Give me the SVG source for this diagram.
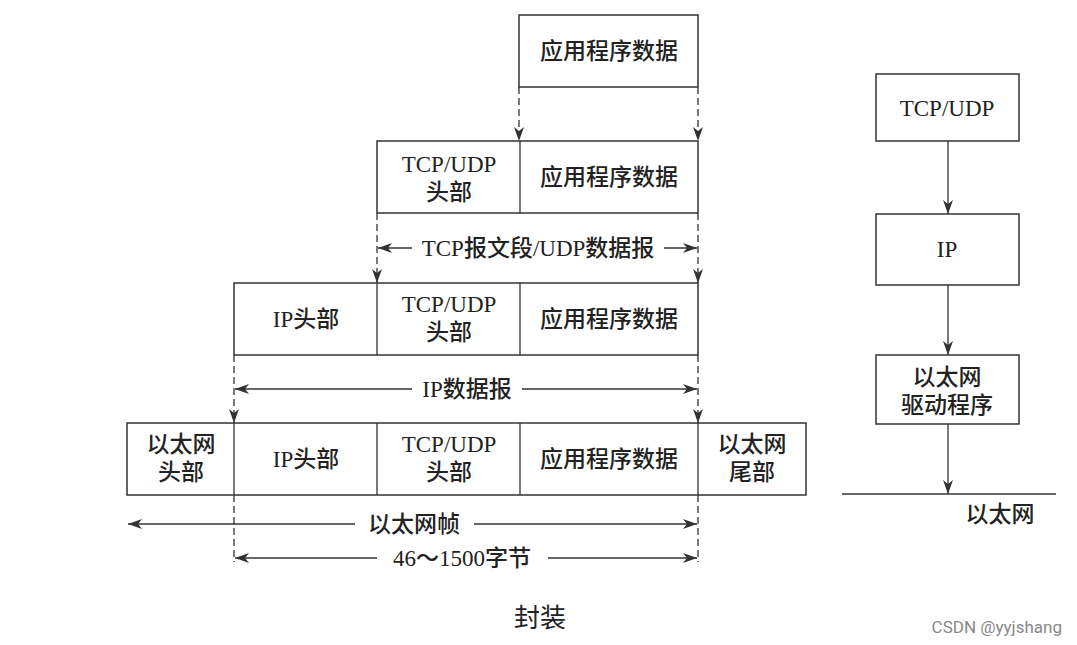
<svg xmlns="http://www.w3.org/2000/svg" width="1077" height="645" viewBox="0 0 1077 645">
<style>
.box{fill:#fff;stroke:#333;stroke-width:1.5}
.t{font-family:"Liberation Serif","Noto Sans CJK SC",serif;font-size:23px;fill:#222;text-anchor:middle;font-weight:500}
.d{stroke:#333;stroke-width:1.3;stroke-dasharray:7 4;fill:none}
.l{stroke:#333;stroke-width:1.3;fill:none}
</style>
<defs>
<marker id="ah" viewBox="0 0 14 10" refX="14" refY="5" markerWidth="14" markerHeight="10" markerUnits="userSpaceOnUse" orient="auto-start-reverse">
<path d="M0,0 L14,5 L0,10 L4,5 Z" fill="#333"/>
</marker>
</defs>
<rect width="1077" height="645" fill="#fff"/>
<g id="connectors">
<line class="d" x1="519" y1="87" x2="519" y2="141" marker-end="url(#ah)"/>
<line class="d" x1="698" y1="87" x2="698" y2="141" marker-end="url(#ah)"/>
<line class="d" x1="377" y1="213" x2="377" y2="283" marker-end="url(#ah)"/>
<line class="d" x1="698" y1="213" x2="698" y2="283" marker-end="url(#ah)"/>
<line class="d" x1="234" y1="355" x2="234" y2="423" marker-end="url(#ah)"/>
<line class="d" x1="698" y1="355" x2="698" y2="423" marker-end="url(#ah)"/>
<line class="d" x1="234" y1="495" x2="234" y2="562"/>
<line class="d" x1="698" y1="495" x2="698" y2="562"/>
<line class="l" x1="412" y1="248" x2="378" y2="248" marker-end="url(#ah)"/>
<line class="l" x1="664" y1="248" x2="697" y2="248" marker-end="url(#ah)"/>
<line class="l" x1="412" y1="389" x2="235" y2="389" marker-end="url(#ah)"/>
<line class="l" x1="522" y1="389" x2="697" y2="389" marker-end="url(#ah)"/>
<line class="l" x1="355" y1="524" x2="128" y2="524" marker-end="url(#ah)"/>
<line class="l" x1="474" y1="524" x2="697" y2="524" marker-end="url(#ah)"/>
<line class="l" x1="377" y1="558" x2="235" y2="558" marker-end="url(#ah)"/>
<line class="l" x1="548" y1="558" x2="697" y2="558" marker-end="url(#ah)"/>
<line class="l" x1="948" y1="141" x2="948" y2="214" marker-end="url(#ah)"/>
<line class="l" x1="948" y1="285" x2="948" y2="355" marker-end="url(#ah)"/>
<line class="l" x1="948" y1="424" x2="948" y2="494" marker-end="url(#ah)"/>
<line class="l" x1="842" y1="494" x2="1056" y2="494"/>
</g>
<g id="top-app">
<rect class="box" x="519" y="15" width="179" height="72"/>
<text class="t" x="609" y="59">应用程序数据</text>
</g>
<g id="row2">
<rect class="box" x="377" y="141" width="321" height="72"/>
<line class="l" x1="520" y1="141" x2="520" y2="213"/>
<text class="t" x="449" y="172">TCP/UDP</text>
<text class="t" x="449" y="200">头部</text>
<text class="t" x="609" y="185">应用程序数据</text>
</g>
<g id="tcp-label"><text class="t" x="538" y="256">TCP报文段/UDP数据报</text></g>
<g id="row3">
<rect class="box" x="234" y="283" width="464" height="72"/>
<line class="l" x1="377" y1="283" x2="377" y2="355"/>
<line class="l" x1="520" y1="283" x2="520" y2="355"/>
<text class="t" x="306" y="327">IP头部</text>
<text class="t" x="449" y="312">TCP/UDP</text>
<text class="t" x="449" y="340">头部</text>
<text class="t" x="609" y="327">应用程序数据</text>
</g>
<g id="ip-label"><text class="t" x="467" y="397">IP数据报</text></g>
<g id="row4">
<rect class="box" x="127" y="423" width="679" height="72"/>
<line class="l" x1="234" y1="423" x2="234" y2="495"/>
<line class="l" x1="377" y1="423" x2="377" y2="495"/>
<line class="l" x1="520" y1="423" x2="520" y2="495"/>
<line class="l" x1="698" y1="423" x2="698" y2="495"/>
<text class="t" x="181" y="452">以太网</text>
<text class="t" x="181" y="480">头部</text>
<text class="t" x="306" y="467">IP头部</text>
<text class="t" x="449" y="452">TCP/UDP</text>
<text class="t" x="449" y="480">头部</text>
<text class="t" x="609" y="467">应用程序数据</text>
<text class="t" x="752" y="452">以太网</text>
<text class="t" x="752" y="480">尾部</text>
</g>
<g id="frame-label"><text class="t" x="414" y="532">以太网帧</text></g>
<g id="size-label"><text class="t" x="462" y="566">46～1500字节</text></g>
<g id="stack-tcp">
<rect class="box" x="876" y="74" width="143" height="67"/>
<text class="t" x="947" y="116">TCP/UDP</text>
</g>
<g id="stack-ip">
<rect class="box" x="876" y="214" width="143" height="71"/>
<text class="t" x="947" y="257">IP</text>
</g>
<g id="stack-eth">
<rect class="box" x="876" y="355" width="143" height="69"/>
<text class="t" x="947" y="385">以太网</text>
<text class="t" x="947" y="413">驱动程序</text>
</g>
<g id="eth-label"><text class="t" x="1000" y="522">以太网</text></g>
<g id="caption"><text class="t" x="540" y="627" style="font-size:26px;font-weight:400">封装</text></g>
<text x="1062" y="633" font-family="Roboto,'Liberation Sans',sans-serif" font-size="17" fill="#888" text-anchor="end">CSDN @yyjshang</text>
</svg>
